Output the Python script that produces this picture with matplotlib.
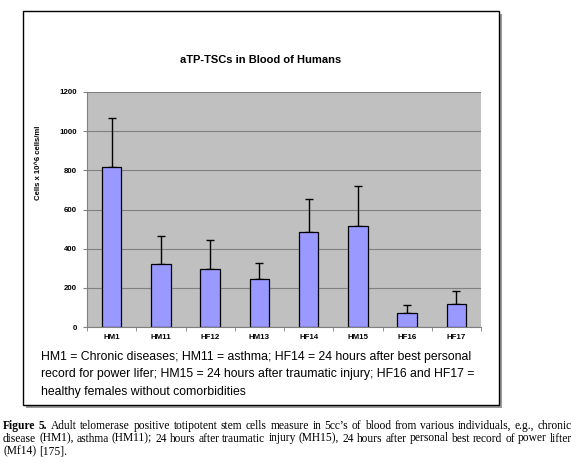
import matplotlib
matplotlib.use("Agg")
import matplotlib.pyplot as plt
from matplotlib.patches import Rectangle
import numpy as np

# data
groups = ["HM1", "HM11", "HF12", "HM13", "HF14", "HM15", "HF16", "HF17"]
means = [818, 320, 298, 243, 484, 516, 73, 119]
err_up = [248, 143, 146, 82, 168, 206, 38, 63]
yticks = [0, 200, 400, 600, 800, 1000, 1200]

title = "aTP-TSCs in Blood of Humans"
ylabel = "Cells x 10^6 cells/ml"
legend_lines = [
    "HM1 = Chronic diseases; HM11 = asthma; HF14 = 24 hours after best personal",
    "record for power lifer; HM15 = 24 hours after traumatic injury; HF16 and HF17 =",
    "healthy females without comorbidities",
]
caption_lines = [
    "Adult telomerase positive totipotent stem cells measure in 5cc\u2019s of blood from various individuals, e.g., chronic",
    "disease (HM1), asthma (HM11); 24 hours after traumatic injury (MH15), 24 hours after personal best record of power lifter",
    "(Mf14) [175].",
]

W, H = 576, 468
fig = plt.figure(figsize=(W / 100, H / 100), dpi=100)
plt.rcParams['font.family'] = ['Liberation Sans', 'DejaVu Sans']


def fx(px):
    return px / W


def fy(py):
    return 1 - py / H


# framed box with shadow
box_l, box_t, box_r, box_b = 23, 11, 499, 405
fig.patches.append(Rectangle((fx(box_l + 3), fy(box_b + 3)), fx(box_r - box_l), (box_b - box_t) / H,
                             transform=fig.transFigure, facecolor="#9a9a9a", edgecolor="none", zorder=0))
fig.patches.append(Rectangle((fx(box_l), fy(box_b)), fx(box_r - box_l), (box_b - box_t) / H,
                             transform=fig.transFigure, facecolor="white", edgecolor="black", lw=1.0, zorder=1))

ax = fig.add_axes([fx(87), fy(327), fx(481 - 87), (327 - 92) / H])
ax.set_zorder(2)
ax.set_facecolor("#c0c0c0")
x = np.arange(len(groups))
ax.bar(x, means, width=0.4, color="#9999ff", edgecolor="black", linewidth=0.9, zorder=3)
ax.errorbar(x, means, yerr=[np.zeros(len(err_up)), err_up], fmt="none",
            ecolor="black", elinewidth=1.0, capsize=3, capthick=1.0, zorder=2)
ax.set_xlim(-0.5, len(groups) - 0.5)
ax.set_ylim(0, 1200)
ax.set_yticks(yticks)
ax.set_yticklabels([str(v) for v in yticks], fontsize=5.7, fontweight="bold")
ax.yaxis.grid(True, color="#808080", lw=0.8, zorder=0)
ax.set_axisbelow(True)
ax.set_xticks(x)
ax.set_xticklabels(groups, fontsize=5.7, fontweight="bold")
ax.tick_params(axis="x", length=0, pad=5)
ax.set_xticks(np.arange(-0.5, len(groups), 1), minor=True)
ax.tick_params(axis="x", which="minor", length=3, color="#808080")
ax.tick_params(axis="y", length=3, color="#808080", pad=4)
for s in ["top", "right"]:
    ax.spines[s].set_visible(False)
for s in ["left", "bottom"]:
    ax.spines[s].set_color("#808080")

fig.text(fx(38), fy(163), ylabel, rotation=90, ha="center", va="center",
         fontsize=5.6, fontweight="bold")
fig.text(fx(261), fy(60), title, ha="center", va="center", fontsize=8, fontweight="bold")

for i, line in enumerate(legend_lines):
    fig.text(fx(41), fy(357 + i * 17.5), line, ha="left", va="center", fontsize=8.8)

# caption in a serif face, justified lines
serif = ["Liberation Serif", "DejaVu Serif"]
fig.canvas.draw()
rend = fig.canvas.get_renderer()
cap_l, cap_r = 3, 572
cap_y = [426, 438.5, 451]

# size the caption so the longest line fills the width with normal spacing
probe = fig.text(0, 0, caption_lines[1], fontsize=10, family=serif)
cap_fs = 10 * (cap_r - cap_l) / probe.get_window_extent(rend).width
probe.remove()
space = 0.25 * cap_fs * 100 / 72

for i, line in enumerate(caption_lines):
    words = line.split(" ")
    items = []
    if i == 0:
        items.append(("Figure", "bold"))
        items.append(("5.", "bold"))
    items += [(w, "normal") for w in words]
    texts = [fig.text(0, fy(cap_y[i]), w, ha="left", va="center", fontsize=cap_fs,
                      family=serif, fontweight=wt) for w, wt in items]
    widths = [t.get_window_extent(rend).width for t in texts]
    if i < len(caption_lines) - 1:
        gap = (cap_r - cap_l - sum(widths)) / (len(texts) - 1)
    else:
        gap = space
    pos = cap_l
    for t, wd in zip(texts, widths):
        t.set_x(fx(pos))
        pos += wd + gap

fig.savefig("out.png", dpi=100)
